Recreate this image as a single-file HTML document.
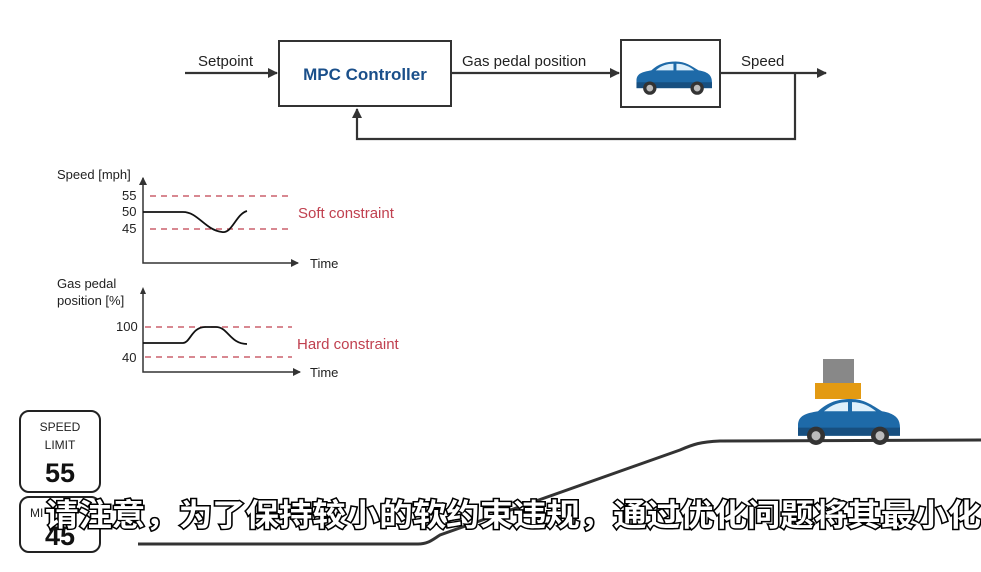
<!DOCTYPE html>
<html><head><meta charset="utf-8"><style>
body{margin:0;background:#fff;}
svg{display:block;}
text{font-family:"Liberation Sans",sans-serif;}
.sub{font-family:"Liberation Sans","Noto Sans CJK SC",sans-serif;font-size:31px;fill:#fff;stroke:#000;stroke-width:3px;paint-order:stroke;font-weight:bold;}
</style></head><body>
<svg width="981" height="572" viewBox="0 0 981 572" xmlns="http://www.w3.org/2000/svg">
<defs>
<g id="car">
<path d="M2,28 C2,18 10,16 22,14 C32,5 42,2 55,2 C68,2 76,8 86,14 C98,16 104,20 104,30 L104,38 L2,38 Z" fill="#1e6aa8"/>
<path d="M2,30 L104,30 L104,38 L2,38 Z" fill="#174f80"/>
<path d="M28,14 C36,7 44,5 52,5 L52,14 Z" fill="#dff0fb"/>
<path d="M56,5 C66,5 74,9 80,14 L56,14 Z" fill="#dff0fb"/>
<circle cx="20" cy="38" r="9" fill="#333"/><circle cx="20" cy="38" r="4.5" fill="#bbb"/>
<circle cx="84" cy="38" r="9" fill="#333"/><circle cx="84" cy="38" r="4.5" fill="#bbb"/>
</g>
<marker id="ar" markerWidth="10" markerHeight="10" refX="9" refY="5" orient="auto" markerUnits="userSpaceOnUse"><path d="M0,0 L10,5 L0,10 Z" fill="#333"/></marker>
<marker id="as" markerWidth="8" markerHeight="8" refX="7" refY="4" orient="auto" markerUnits="userSpaceOnUse"><path d="M0,0 L8,4 L0,8 Z" fill="#333"/></marker>
</defs>
<!-- block diagram -->
<g stroke="#333" stroke-width="2.2" fill="none">
<line x1="185" y1="73" x2="277" y2="73" marker-end="url(#ar)"/>
<line x1="452" y1="73" x2="619" y2="73" marker-end="url(#ar)"/>
<line x1="721" y1="73" x2="826" y2="73" marker-end="url(#ar)"/>
<polyline points="795,73 795,139 357,139 357,109" marker-end="url(#ar)"/>
</g>
<rect x="279" y="41" width="172" height="65" fill="#fff" stroke="#333" stroke-width="2"/>
<rect x="621" y="40" width="99" height="67" fill="#fff" stroke="#333" stroke-width="2"/>
<text x="365" y="80" font-size="17" font-weight="bold" fill="#1a4f8a" text-anchor="middle">MPC Controller</text>
<text x="198" y="66" font-size="15" fill="#222">Setpoint</text>
<text x="462" y="66" font-size="15" fill="#222">Gas pedal position</text>
<text x="741" y="66" font-size="15" fill="#222">Speed</text>
<use href="#car" transform="translate(635,60) scale(0.74)"/>
<!-- chart 1 -->
<g stroke="#333" stroke-width="1.5" fill="none">
<polyline points="143,180 143,263 298,263" marker-end="url(#as)"/>
<line x1="143" y1="180" x2="143" y2="178" marker-end="url(#as)" transform="rotate(0)"/>
<polyline points="143,290 143,372 300,372" marker-end="url(#as)"/>
</g>
<path d="M140,184 L143,177 L146,184 Z M140,294 L143,287 L146,294 Z" fill="#333"/>
<g stroke="#c0404f" stroke-width="1.3" stroke-dasharray="6,5">
<line x1="150" y1="196" x2="290" y2="196"/><line x1="150" y1="229" x2="290" y2="229"/>
<line x1="145" y1="327" x2="292" y2="327"/><line x1="145" y1="357" x2="292" y2="357"/>
</g>
<path d="M143,212 L183,212 C198,212 205,230 222,232 C232,234 236,214 247,211" stroke="#111" stroke-width="1.8" fill="none"/>
<path d="M143,343 L183,343 C190,343 192,327 205,327 L216,327 C228,327 230,344 247,344" stroke="#111" stroke-width="1.8" fill="none"/>
<g font-size="13" fill="#222">
<text x="57" y="179">Speed [mph]</text>
<text x="122" y="200">55</text><text x="122" y="216">50</text><text x="122" y="233">45</text>
<text x="310" y="268">Time</text>
<text x="57" y="288">Gas pedal</text><text x="57" y="305">position [%]</text>
<text x="116" y="331">100</text><text x="122" y="362">40</text>
<text x="310" y="377">Time</text>
</g>
<text x="298" y="218" font-size="15" fill="#c0404f">Soft constraint</text>
<text x="297" y="349" font-size="15" fill="#c0404f">Hard constraint</text>
<!-- signs -->
<rect x="20" y="411" width="80" height="81" rx="9" fill="#fff" stroke="#222" stroke-width="2"/>
<text x="60" y="431" font-size="12" text-anchor="middle" fill="#222">SPEED</text>
<text x="60" y="449" font-size="12" text-anchor="middle" fill="#222">LIMIT</text>
<text x="60" y="482" font-size="27" font-weight="bold" text-anchor="middle" fill="#111">55</text>
<rect x="20" y="497" width="80" height="55" rx="9" fill="#fff" stroke="#222" stroke-width="2"/>
<text x="30" y="517" font-size="12" fill="#222">MI</text>
<text x="60" y="545" font-size="27" font-weight="bold" text-anchor="middle" fill="#111">45</text>
<!-- road -->
<path d="M138,544 L418,544 C428,544 432,540 440,535 L680,450 C694,444 700,442 720,441 L981,440" stroke="#333" stroke-width="3" fill="none"/>
<rect x="823" y="359" width="31" height="25" fill="#888"/>
<rect x="815" y="383" width="46" height="16" fill="#e39a12"/>
<use href="#car" transform="translate(796,397) scale(1,1.02)"/>
<!-- subtitle -->
<text class="sub" x="45" y="526" textLength="936" lengthAdjust="spacingAndGlyphs">请注意，为了保持较小的软约束违规，通过优化问题将其最小化</text>
</svg>
</body></html>
